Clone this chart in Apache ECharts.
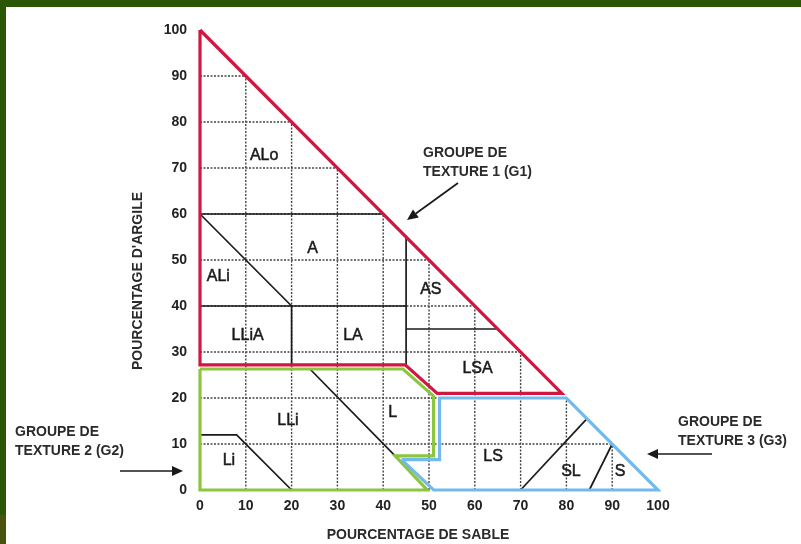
<!DOCTYPE html>
<html><head><meta charset="utf-8">
<script src="https://cdn.jsdelivr.net/npm/echarts@6/dist/echarts.min.js"></script>
<style>html,body{margin:0;padding:0;background:#fff;}#c{width:801px;height:544px;}</style>
</head><body><div id="c"></div>
<script>
// ---- data (percent sand = x, percent clay = y) ----
const gridTicks = [10, 20, 30, 40, 50, 60, 70, 80, 90];
const group1 = [[0,100],[0,27.2],[44.8,27.2],[51.8,21],[79,21],[0,100]];
const group2 = [[0,26.3],[44.3,26.3],[51,20.4],[51,7.4],[42.6,7.4],[49.6,0],[0,0],[0,26.3]];
const group3 = [[44,6.6],[52.3,6.6],[52.3,20],[80,20],[100,0],[51,0],[44,6.6]];
const dividers = [
  [[0,60],[40,60]],
  [[0,60],[20,40]],
  [[0,40],[45,40]],
  [[20,40],[20,27.2]],
  [[45,55],[45,27.2]],
  [[45,35],[65,35]],
  [[0,12],[8,12],[20,0]],
  [[24,26.3],[42.6,7.4]],
  [[70,0],[84.5,15.5]],
  [[85,0],[90,10]]
];
const regionNames = ['ALo','A','ALi','AS','LLiA','LA','LSA','LLi','L','Li','LS','SL','S'];
const regionPos = [[14,72.6],[24.6,52.4],[4,46.5],[50.4,43.5],[10.4,33.5],[33.4,33.5],[60.6,26.5],[19.2,15],[42.1,16.9],[6.3,6.3],[64,7.2],[81,4.1],[91.7,4.1]];
const groupNotes = ['GROUPE DE\nTEXTURE 1 (G1)','GROUPE DE\nTEXTURE 2 (G2)','GROUPE DE\nTEXTURE 3 (G3)'];
const xTitle = 'POURCENTAGE DE SABLE';
const yTitle = "POURCENTAGE D'ARGILE";

// ---- build ----
const gridSegs = [];
gridTicks.forEach(t => {
  gridSegs.push({coords: [[t,0],[t,100-t]]});
  gridSegs.push({coords: [[0,t],[100-t,t]]});
});
const FONT = '"Liberation Sans", Arial, sans-serif';
const chart = echarts.init(document.getElementById('c'), null, {renderer:'canvas'});
function bound(data, color){
  return {type:'line', data:data, symbol:'none', clip:false, silent:true, z:5,
    lineStyle:{color:color, width:3.2, join:'miter'}, animation:false};
}
function arrow(x1,y1,x2,y2){
  const a = Math.atan2(y2-y1, x2-x1), L = 11, W = 5;
  const bx = x2 - L*Math.cos(a), by = y2 - L*Math.sin(a);
  const px = -Math.sin(a)*W, py = Math.cos(a)*W;
  return [
    {type:'line', shape:{x1:x1,y1:y1,x2:bx,y2:by}, style:{stroke:'#1a1a1a', lineWidth:1.7}},
    {type:'polygon', shape:{points:[[x2,y2],[bx+px,by+py],[bx-px,by-py]]}, style:{fill:'#1a1a1a'}}
  ];
}
const noteStyle = {font:'bold 14px '+FONT, fill:'#2a2a2a', lineHeight:19};
chart.setOption({
  animation:false,
  backgroundColor:'#fff',
  grid:{left:200, right:143, top:30, bottom:54},
  xAxis:{type:'value', min:0, max:100, interval:10,
    axisLine:{show:false}, axisTick:{show:false}, splitLine:{show:false},
    axisLabel:{margin:9, color:'#222', fontSize:14, fontWeight:'bold', fontFamily:FONT}},
  yAxis:{type:'value', min:0, max:100, interval:10,
    axisLine:{show:false}, axisTick:{show:false}, splitLine:{show:false},
    axisLabel:{margin:13, color:'#222', fontSize:14, fontWeight:'bold', fontFamily:FONT}},
  series:[
    {type:'lines', coordinateSystem:'cartesian2d', polyline:true, silent:true, z:2,
      data:gridSegs, lineStyle:{color:'#444', width:1.4, type:[2,1.5], opacity:1}},
    {type:'lines', coordinateSystem:'cartesian2d', polyline:true, silent:true, z:3,
      data:dividers.map(d=>({coords:d})), lineStyle:{color:'#1a1a1a', width:1.7, opacity:1}},
    bound(group2, '#8cc63f'),
    bound(group3, '#74b9ec'),
    bound(group1, '#d0173f'),
    {type:'scatter', symbolSize:0, silent:true, z:6,
      itemStyle:{color:'#1a1a1a', opacity:1},
      data:regionPos.map((p,i)=>({value:p, name:regionNames[i]})),
      label:{show:true, position:'inside', formatter:p=>p.name, color:'#1a1a1a', opacity:1,
        textBorderColor:'#1a1a1a', textBorderWidth:0.5, fontSize:16, fontFamily:FONT}}
  ],
  graphic:[
    {type:'rect', shape:{x:0,y:0,width:801,height:7}, style:{fill:'#2a5606'}, z:100},
    {type:'rect', shape:{x:0,y:0,width:6,height:515}, style:{fill:'#2a5606'}, z:100},
    {type:'rect', shape:{x:0,y:515,width:6,height:29}, style:{fill:'#4a5210'}, z:100},
    {type:'text', x:423, y:144, style:Object.assign({text:groupNotes[0]}, noteStyle)},
    {type:'text', x:15, y:423, style:Object.assign({text:groupNotes[1]}, noteStyle)},
    {type:'text', x:678, y:413, style:Object.assign({text:groupNotes[2]}, noteStyle)},
    ...arrow(458,183,407,220),
    ...arrow(120,471,183,471),
    ...arrow(712,454,647,454),
    {type:'text', x:418, y:535, style:{text:xTitle, font:'bold 14px '+FONT, fill:'#2a2a2a', align:'center', verticalAlign:'middle'}},
    {type:'text', x:138, y:281, rotation:Math.PI/2, style:{text:yTitle, font:'bold 14px '+FONT, fill:'#2a2a2a', align:'center', verticalAlign:'middle'}}
  ]
});
</script></body></html>
